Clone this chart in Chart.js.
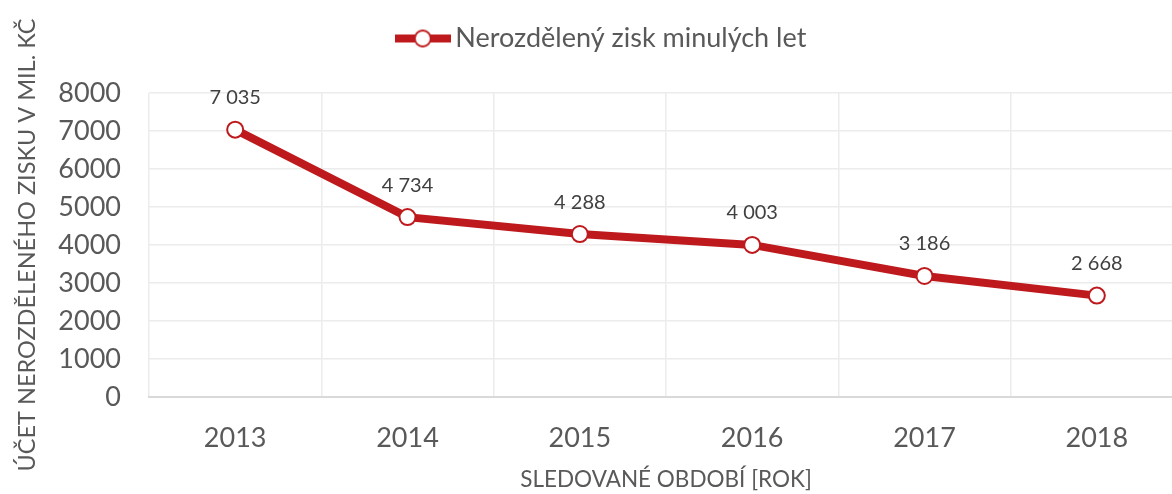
<!DOCTYPE html>
<html>
<head>
<meta charset="utf-8">
<script src="https://cdn.jsdelivr.net/npm/chart.js@4.4.1/dist/chart.umd.min.js"></script>
<style>
  html, body { margin: 0; padding: 0; background: #fff; overflow: hidden; }
  canvas { display: block; }
</style>
</head>
<body>
<canvas id="chart" width="1193" height="494"></canvas>
<script>
// Data
const years = ['2013', '2014', '2015', '2016', '2017', '2018'];
const retainedEarnings = [7035, 4734, 4288, 4003, 3186, 2668];
const seriesName = 'Nerozdělený zisk minulých let';
const yTitle = 'ÚČET NEROZDĚLENÉHO ZISKU V MIL. KČ';
const xTitle = 'SLEDOVANÉ OBDOBÍ [ROK]';

const red = '#BE1A1D';
const grey = '#595959';
const font = 'Lato';

// legend marker: thick line with an open circle, like the office chart
function legendMarker() {
    let c = document.createElement('canvas');
    c.width = 56; c.height = 20;
    let g = c.getContext('2d');
    g.strokeStyle = red;
    g.lineWidth = 8;
    g.beginPath(); g.moveTo(0, 10); g.lineTo(56, 10); g.stroke();
    g.lineWidth = 2;
    g.fillStyle = '#fff';
    g.beginPath(); g.arc(28, 10, 8, 0, Math.PI * 2); g.fill(); g.stroke();
    return c;
}

// "7035" -> "7 035"
function fmt(v) {
    return String(v).replace(/\B(?=(\d{3})+(?!\d))/g, ' ');
}

const valueLabels = {
    id: 'valueLabels',
    afterDatasetsDraw(chart) {
        let ctx = chart.ctx;
        let meta = chart.getDatasetMeta(0);
        ctx.save();
        ctx.font = '20px ' + font;
        ctx.fillStyle = '#404040';
        ctx.textAlign = 'center';
        ctx.textBaseline = 'middle';
        meta.data.forEach((pt, i) => {
            ctx.fillText(fmt(chart.data.datasets[0].data[i]), pt.x, pt.y - 32);
        });
        ctx.restore();
    }
};

// more room under the legend, and nudge it a bit right
const legendGap = {
    id: 'legendGap',
    beforeInit(chart) {
        let lg = chart.legend;
        let fit = lg.fit;
        lg.fit = function () {
            fit.call(this);
            this.height += 31;
        };
    },
    afterLayout(chart) {
        chart.legend.left += 10;
        chart.legend.right += 10;
    }
};

const marker = legendMarker();

new Chart(document.getElementById('chart').getContext('2d'), {
    type: 'line',
    data: {
        labels: years,
        datasets: [{
            label: seriesName,
            data: retainedEarnings,
            borderColor: red,
            backgroundColor: '#fff',
            borderWidth: 8,
            pointRadius: 8,
            pointHoverRadius: 8,
            pointBorderWidth: 2,
            pointBackgroundColor: '#fff',
            pointBorderColor: red,
            tension: 0
        }]
    },
    options: {
        responsive: false,
        animation: false,
        layout: { padding: { left: 0, right: 3, top: 5, bottom: 1 } },
        plugins: {
            tooltip: { enabled: false },
            legend: {
                position: 'top',
                labels: {
                    usePointStyle: true,
                    pointStyleWidth: 38,
                    padding: 20,
                    color: grey,
                    font: { family: font, size: 27 },
                    generateLabels: (chart) => [{
                        text: seriesName,
                        pointStyle: marker,
                        fontColor: grey,
                        datasetIndex: 0
                    }]
                }
            }
        },
        scales: {
            x: {
                offset: true,
                grid: { color: '#ececec', lineWidth: 1.5, offset: true, drawTicks: false },
                border: { color: '#d9d9d9', width: 2 },
                ticks: { color: grey, padding: 25, autoSkip: false, maxRotation: 0, font: { family: font, size: 27 } },
                title: {
                    display: true, text: xTitle, color: grey,
                    font: { family: font, size: 22.5 }, padding: { top: 12, bottom: 0 }
                },
                afterFit: (scale) => {
                    scale.height = 96;
                    scale.paddingLeft = 0;
                    scale.paddingRight = 0;
                }
            },
            y: {
                min: 0, max: 8000,
                ticks: {
                    stepSize: 1000, color: grey, padding: 28, autoSkip: false,
                    font: { family: font, size: 27 },
                    callback: (v) => String(v)
                },
                grid: { color: '#ececec', lineWidth: 1.5, drawTicks: false },
                border: { display: false },
                title: {
                    display: true, text: yTitle, color: grey,
                    font: { family: font, size: 23.5 }, padding: { top: 13, bottom: 0 }
                },
                afterFit: (scale) => { scale.width = 149; }
            }
        }
    },
    plugins: [valueLabels, legendGap]
});
</script>
</body>
</html>
